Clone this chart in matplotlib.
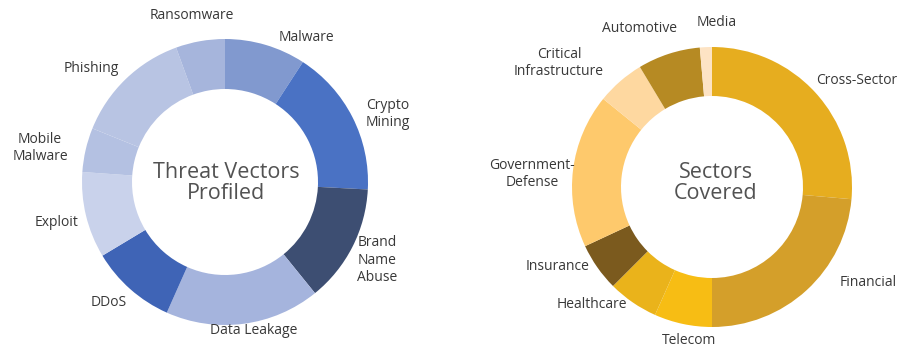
import matplotlib.pyplot as plt

# left donut - threat vectors (clockwise from 12 o'clock)
threat_names = ["Malware", "Crypto\nMining", "Brand\nName\nAbuse", "Data Leakage", "DDoS",
                "Exploit", "Mobile\nMalware", "Phishing", "Ransomware"]
threat_vals = [33, 60, 48, 63, 35, 35, 18, 48, 20]
threat_colors = ["#8199cf", "#4a72c4", "#3d4e72", "#a5b4dd", "#3f64b6",
                 "#c9d2eb", "#b4c1e2", "#b8c4e3", "#a6b5dc"]

# right donut - sectors (clockwise from 12 o'clock)
sector_names = ["Cross-Sector", "Financial", "Telecom", "Healthcare", "Insurance",
                "Government-\nDefense", "Critical\nInfrastructure", "Automotive", "Media"]
sector_vals = [95, 85, 24, 21, 20, 64, 20, 26, 5]
sector_colors = ["#e6ad1f", "#d49f2a", "#f7bd14", "#eab31b", "#7b5a1e",
                 "#fec96c", "#fed8a0", "#b68a23", "#fde3c4"]

H = 347
fig = plt.figure(figsize=(8.99, 3.47), dpi=100)
ax = fig.add_axes([0, 0, 1, 1])

# pixel coordinates, y flipped so pie goes clockwise
ax.pie(threat_vals, colors=threat_colors, startangle=90, counterclock=False,
       center=(225, H - 182), radius=143,
       wedgeprops=dict(width=50, edgecolor="none"))
ax.pie(sector_vals, colors=sector_colors, startangle=90, counterclock=False,
       center=(712, H - 187), radius=140,
       wedgeprops=dict(width=49, edgecolor="none"))

ax.set_xlim(0, 899)
ax.set_ylim(0, H)
ax.set_aspect("equal")
ax.axis("off")

font = "Open Sans"
lab_col = "#383838"

# label spots (image pixels)
threat_pos = [(306, 37), (388, 114), (377, 260), (254, 331), (109, 302),
              (57, 223), (40, 148), (91, 68), (192, 15)]
sector_pos = [(857, 80), (868, 283), (689, 341), (592, 304), (558, 266),
              (532, 174), (559, 63), (640, 28), (717, 22)]

for name, (x, y) in zip(threat_names, threat_pos):
    ax.text(x, H - y, name, ha="center", va="center", fontsize=10,
            family=font, color=lab_col, linespacing=1.2)
for name, (x, y) in zip(sector_names, sector_pos):
    ax.text(x, H - y, name, ha="center", va="center", fontsize=10,
            family=font, color=lab_col, linespacing=1.2)

# titles in the holes
ax.text(226, H - 183, "Threat Vectors\nProfiled", ha="center", va="center",
        fontsize=15.5, family=font, color="#525252", linespacing=1.05)
ax.text(716, H - 183, "Sectors\nCovered", ha="center", va="center",
        fontsize=15.5, family=font, color="#525252", linespacing=1.05)

fig.savefig("out.png", dpi=100)
